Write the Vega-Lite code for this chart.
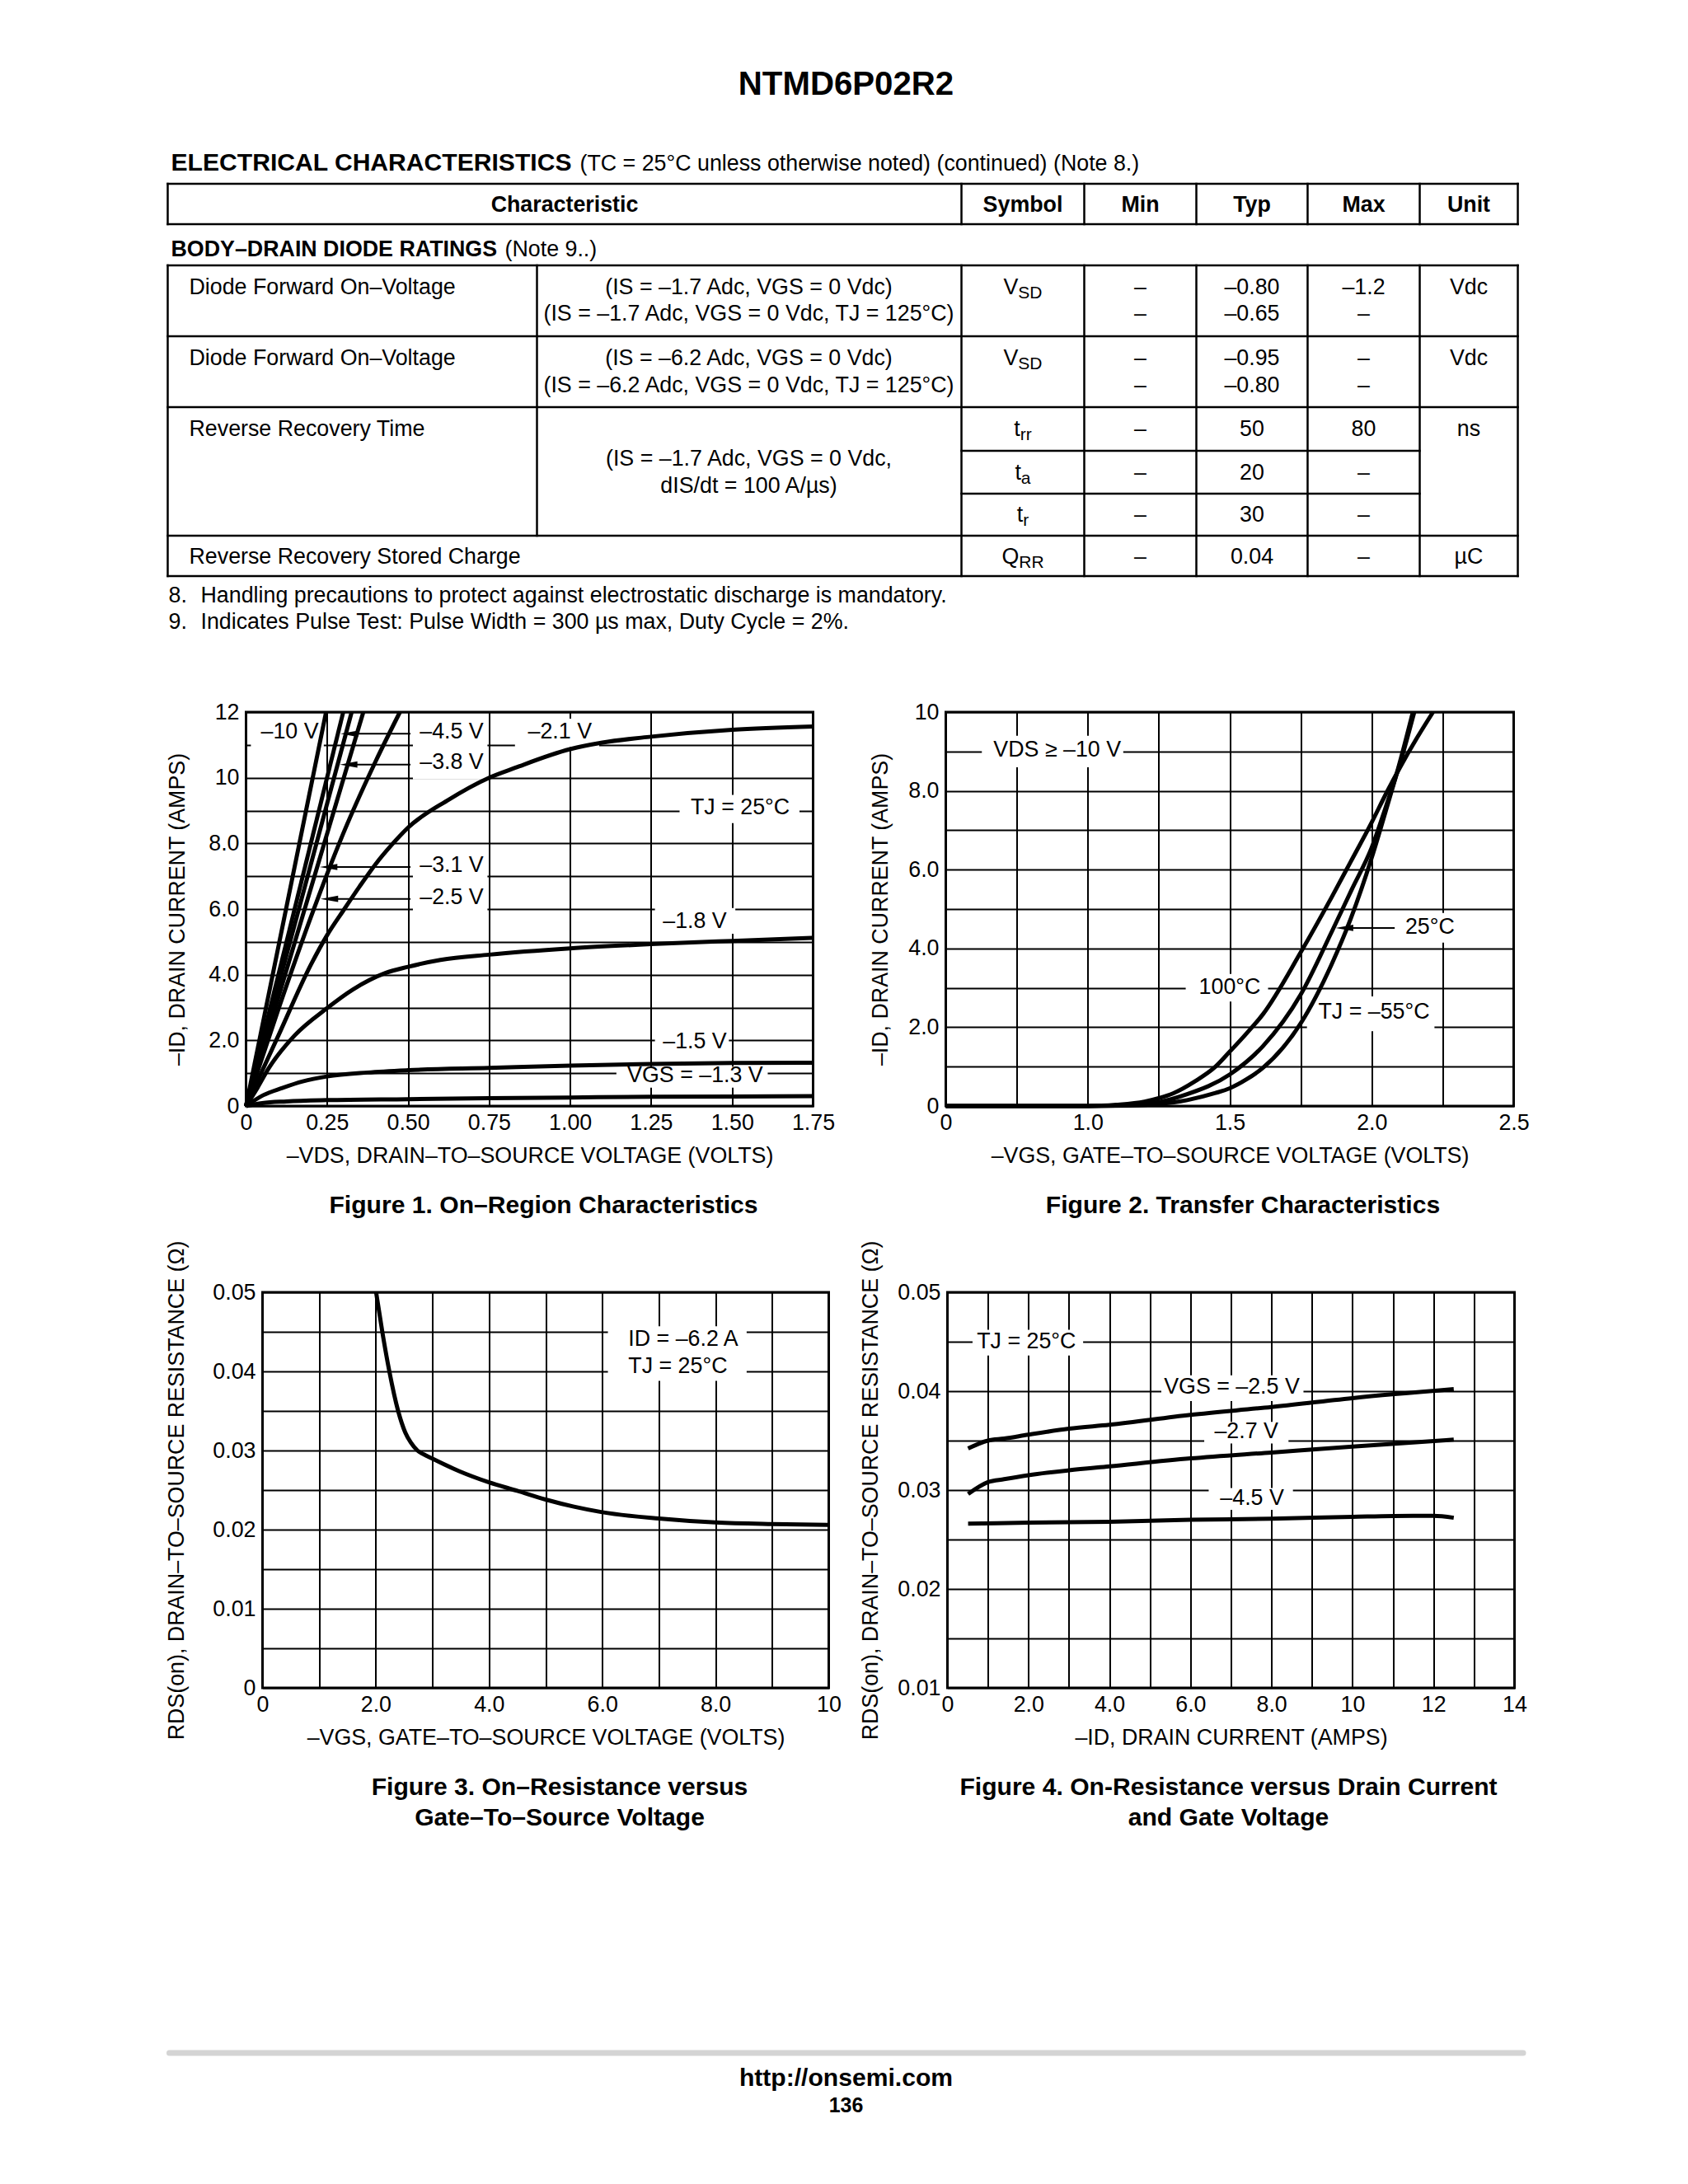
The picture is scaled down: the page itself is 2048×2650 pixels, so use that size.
{
"$schema": "https://vega.github.io/schema/vega-lite/v6.json",
"background": "white",
"padding": {"left": 199.5, "top": 40, "right": 10, "bottom": 10},
"config": {
  "font": "Liberation Sans",
  "view": {"stroke": "black", "strokeWidth": 3},
  "axis": {"labelFont": "Liberation Sans", "labelFontSize": 26.8, "labelColor": "black", "titleFont": "Liberation Sans", "titleFontSize": 26.8, "titleFontWeight": "normal", "titleColor": "black", "grid": true, "gridColor": "black", "gridWidth": 2, "gridOpacity": 1, "domain": false, "ticks": false, "tickSize": 0, "labelFlush": false, "labelOverlap": false, "labelBound": false, "titleLimit": 1000},
  "axisX": {"labelPadding": 7, "titlePadding": 13.8},
  "axisY": {"labelPadding": 8.5},
  "text": {"font": "Liberation Sans", "color": "black"}
},
"spacing": 23,
"bounds": "full",
"vconcat": [
{
  "width": 1640, "height": 786,
  "view": {"stroke": null},
  "encoding": {
    "x": {"field": "x", "type": "quantitative", "scale": {"domain": [88.453, 578.53], "nice": false, "zero": false}, "axis": null},
    "y": {"field": "y", "type": "quantitative", "scale": {"domain": [11.953, 246.83], "nice": false, "zero": false, "reverse": true}, "axis": null}
  },
  "layer": [
    {"data": {"values": [
      {"x":60.06,"x2":549.55,"y":66.64,"y2":66.64},
      {"x":60.06,"x2":549.55,"y":81.28,"y2":81.28},
      {"x":60.06,"x2":549.55,"y":96.22,"y2":96.22},
      {"x":60.06,"x2":549.55,"y":121.92,"y2":121.92},
      {"x":60.06,"x2":549.55,"y":147.62,"y2":147.62},
      {"x":347.84,"x2":513.99,"y":163.46,"y2":163.46},
      {"x":347.84,"x2":513.99,"y":179.0,"y2":179.0},
      {"x":60.06,"x2":549.55,"y":194.24,"y2":194.24},
      {"x":60.06,"x2":549.55,"y":208.88,"y2":208.88},
      {"x":60.06,"x2":60.06,"y":66.64,"y2":81.28},
      {"x":347.84,"x2":347.84,"y":66.64,"y2":81.28},
      {"x":392.36,"x2":392.36,"y":66.64,"y2":81.28},
      {"x":433.0,"x2":433.0,"y":66.64,"y2":81.28},
      {"x":473.34,"x2":473.34,"y":66.64,"y2":81.28},
      {"x":513.99,"x2":513.99,"y":66.64,"y2":81.28},
      {"x":549.55,"x2":549.55,"y":66.64,"y2":81.28},
      {"x":60.06,"x2":60.06,"y":96.22,"y2":208.88},
      {"x":193.94,"x2":193.94,"y":96.22,"y2":194.24},
      {"x":347.84,"x2":347.84,"y":96.22,"y2":208.88},
      {"x":392.36,"x2":392.36,"y":96.22,"y2":208.88},
      {"x":433.0,"x2":433.0,"y":96.22,"y2":208.88},
      {"x":473.34,"x2":473.34,"y":96.22,"y2":208.88},
      {"x":513.99,"x2":513.99,"y":96.22,"y2":208.88},
      {"x":549.55,"x2":549.55,"y":96.22,"y2":208.88}
    ]},
    "mark": {"type": "rule", "color": "black", "strokeWidth": 2.5, "strokeCap": "square"},
    "encoding": {"x2": {"field": "x2"}, "y2": {"field": "y2"}}},
    {"data": {"values": [{"x":306.0,"y":34.49,"t":"NTMD6P02R2"}]},
     "mark": {"type": "text", "align": "center", "baseline": "alphabetic", "fontSize": 40.2, "fontWeight": "bold"},
     "encoding": {"text": {"field": "t"}}},
    {"data": {"values": [{"x":61.26,"y":61.80,"t":"ELECTRICAL CHARACTERISTICS"}]},
     "mark": {"type": "text", "align": "left", "baseline": "alphabetic", "fontSize": 30.1, "fontWeight": "bold"},
     "encoding": {"text": {"field": "t"}}},
    {"data": {"values": [{"x":61.26,"y":92.82,"t":"BODY–DRAIN DIODE RATINGS"}]},
     "mark": {"type": "text", "align": "left", "baseline": "alphabetic", "fontSize": 26.8, "fontWeight": "bold"},
     "encoding": {"text": {"field": "t"}}},
    {"data": {"values": [
      {"x":203.95,"y":76.68,"t":"Characteristic"},
      {"x":370.10,"y":76.68,"t":"Symbol"},
      {"x":412.68,"y":76.68,"t":"Min"},
      {"x":453.17,"y":76.68,"t":"Typ"},
      {"x":493.66,"y":76.68,"t":"Max"},
      {"x":531.76,"y":76.68,"t":"Unit"}
    ]},
     "mark": {"type": "text", "align": "center", "baseline": "alphabetic", "fontSize": 26.8, "fontWeight": "bold"},
     "encoding": {"text": {"field": "t"}}},
    {"data": {"values": [
      {"x":209.48,"y":61.80,"t":"(TC = 25°C unless otherwise noted) (continued) (Note 8.)"},
      {"x":182.29,"y":92.82,"t":"(Note 9..)"},
      {"x":67.83,"y":106.56,"t":"Diode Forward On–Voltage"},
      {"x":67.83,"y":132.26,"t":"Diode Forward On–Voltage"},
      {"x":67.83,"y":157.96,"t":"Reverse Recovery Time"},
      {"x":67.83,"y":204.28,"t":"Reverse Recovery Stored Charge"},
      {"x":60.36,"y":218.33,"t":"8."},
      {"x":72.02,"y":218.33,"t":"Handling precautions to protect against electrostatic discharge is mandatory."},
      {"x":60.36,"y":227.89,"t":"9."},
      {"x":72.02,"y":227.89,"t":"Indicates Pulse Test: Pulse Width = 300 µs max, Duty Cycle = 2%."}
    ]},
     "mark": {"type": "text", "align": "left", "baseline": "alphabetic", "fontSize": 26.8},
     "encoding": {"text": {"field": "t"}}},
    {"data": {"values": [
      {"x":270.74,"y":106.56,"t":"(IS = –1.7 Adc, VGS = 0 Vdc)"},
      {"x":270.74,"y":116.13,"t":"(IS = –1.7 Adc, VGS = 0 Vdc, TJ = 125°C)"},
      {"x":270.74,"y":132.26,"t":"(IS = –6.2 Adc, VGS = 0 Vdc)"},
      {"x":270.74,"y":142.12,"t":"(IS = –6.2 Adc, VGS = 0 Vdc, TJ = 125°C)"},
      {"x":270.74,"y":168.72,"t":"(IS = –1.7 Adc, VGS = 0 Vdc,"},
      {"x":270.74,"y":178.58,"t":"dIS/dt = 100 A/µs)"},
      {"x":412.68,"y":106.56,"t":"–"},
      {"x":412.68,"y":116.13,"t":"–"},
      {"x":412.68,"y":132.26,"t":"–"},
      {"x":412.68,"y":142.12,"t":"–"},
      {"x":412.68,"y":157.96,"t":"–"},
      {"x":412.68,"y":173.80,"t":"–"},
      {"x":412.68,"y":189.04,"t":"–"},
      {"x":412.68,"y":204.28,"t":"–"},
      {"x":453.17,"y":106.56,"t":"–0.80"},
      {"x":453.17,"y":116.13,"t":"–0.65"},
      {"x":453.17,"y":132.26,"t":"–0.95"},
      {"x":453.17,"y":142.12,"t":"–0.80"},
      {"x":453.17,"y":157.96,"t":"50"},
      {"x":453.17,"y":173.80,"t":"20"},
      {"x":453.17,"y":189.04,"t":"30"},
      {"x":453.17,"y":204.28,"t":"0.04"},
      {"x":493.66,"y":106.56,"t":"–1.2"},
      {"x":493.66,"y":116.13,"t":"–"},
      {"x":493.66,"y":132.26,"t":"–"},
      {"x":493.66,"y":142.12,"t":"–"},
      {"x":493.66,"y":157.96,"t":"80"},
      {"x":493.66,"y":173.80,"t":"–"},
      {"x":493.66,"y":189.04,"t":"–"},
      {"x":493.66,"y":204.28,"t":"–"},
      {"x":531.76,"y":106.56,"t":"Vdc"},
      {"x":531.76,"y":132.26,"t":"Vdc"},
      {"x":531.76,"y":157.96,"t":"ns"},
      {"x":531.76,"y":204.28,"t":"µC"}
    ]},
     "mark": {"type": "text", "align": "center", "baseline": "alphabetic", "fontSize": 26.8},
     "encoding": {"text": {"field": "t"}}},
    {"data": {"values": [
      {"x":368.41,"y":106.56,"t":"V"},
      {"x":368.41,"y":132.26,"t":"V"},
      {"x":369.13,"y":157.96,"t":"t"},
      {"x":369.46,"y":173.80,"t":"t"},
      {"x":370.18,"y":189.04,"t":"t"},
      {"x":368.68,"y":204.28,"t":"Q"}
    ]},
     "mark": {"type": "text", "align": "right", "baseline": "alphabetic", "fontSize": 26.8},
     "encoding": {"text": {"field": "t"}}},
    {"data": {"values": [
      {"x":368.41,"y":108.06,"t":"SD"},
      {"x":368.41,"y":133.76,"t":"SD"},
      {"x":369.13,"y":159.46,"t":"rr"},
      {"x":369.46,"y":175.30,"t":"a"},
      {"x":370.18,"y":190.54,"t":"r"},
      {"x":368.68,"y":205.78,"t":"RR"}
    ]},
     "mark": {"type": "text", "align": "left", "baseline": "alphabetic", "fontSize": 21},
     "encoding": {"text": {"field": "t"}}}
  ]
},
{
  "hconcat": [
  {
    "width": 688, "height": 478,
    "title": {"text": "Figure 1. On–Region Characteristics", "orient": "bottom", "frame": "group", "anchor": "middle", "baseline": "top", "offset": 31.6, "dx": 17, "fontSize": 30.1, "fontWeight": "bold", "color": "black"},
    "encoding": {
      "x": {"field": "x", "type": "quantitative", "scale": {"domain": [0, 1.75], "nice": false, "zero": false},
            "axis": {"title": "–VDS, DRAIN–TO–SOURCE VOLTAGE (VOLTS)", "values": [0,0.25,0.5,0.75,1,1.25,1.5,1.75], "labelExpr": "datum.value == 0 ? '0' : format(datum.value, '.2f')"}},
      "y": {"field": "y", "type": "quantitative", "scale": {"domain": [0, 12], "nice": false, "zero": false},
            "axis": {"title": "–ID, DRAIN CURRENT (AMPS)", "titlePadding": 23.7, "values": [0,1,2,3,4,5,6,7,8,9,10,11,12], "labelExpr": "datum.value % 2 != 0 ? '' : datum.value == 0 ? '0' : datum.value >= 10 ? format(datum.value, 'd') : format(datum.value, '.1f')"}}
    },
    "layer": [
      {"data": {"values": [
        {"x":0.015,"x2":0.24,"y":10.9,"y2":11.85},
        {"x":0.515,"x2":0.745,"y":10.93,"y2":11.8},
        {"x":0.515,"x2":0.745,"y":9.95,"y2":10.87},
        {"x":0.515,"x2":0.745,"y":6.83,"y2":7.72},
        {"x":0.515,"x2":0.745,"y":5.85,"y2":6.77},
        {"x":0.83,"x2":1.09,"y":10.93,"y2":11.8},
        {"x":1.338,"x2":1.708,"y":8.62,"y2":9.48},
        {"x":1.262,"x2":1.51,"y":5.25,"y2":6.03},
        {"x":1.262,"x2":1.49,"y":1.55,"y2":2.3},
        {"x":1.143,"x2":1.61,"y":0.56,"y2":1.2}
      ]},
       "mark": {"type": "rect", "color": "white", "opacity": 1},
       "encoding": {"x2": {"field": "x2"}, "y2": {"field": "y2"}}},
      {"data": {"values": [
        {"x":0.3185,"x2":0.5076,"y":11.34},
        {"x":0.3165,"x2":0.5076,"y":10.4},
        {"x":0.2546,"x2":0.5076,"y":7.28},
        {"x":0.257,"x2":0.5076,"y":6.31}
      ]},
       "mark": {"type": "rule", "color": "black", "strokeWidth": 2},
       "encoding": {"x2": {"field": "x2"}}},
      {"data": {"values": [
        {"x":0.3185,"y":11.34},
        {"x":0.3165,"y":10.4},
        {"x":0.2546,"y":7.28},
        {"x":0.257,"y":6.31}
      ]},
       "mark": {"type": "point", "shape": "M-1,0L1,-0.36L1,0.36Z", "size": 460, "filled": true, "color": "black", "opacity": 1, "strokeWidth": 0}},
      {"data": {"values": [
        {"s":"-10","x":0,"y":0},{"s":"-10","x":0.247,"y":12},
        {"s":"-4.5","x":0,"y":0},{"s":"-4.5","x":0.300,"y":12},
        {"s":"-3.8","x":0,"y":0},{"s":"-3.8","x":0.326,"y":12},
        {"s":"-3.1","x":0,"y":0},{"s":"-3.1","x":0.362,"y":12},
        {"s":"-2.5","x":0,"y":0},{"s":"-2.5","x":0.1,"y":2.95},{"s":"-2.5","x":0.2,"y":5.75},{"s":"-2.5","x":0.3,"y":8.3},{"s":"-2.5","x":0.4,"y":10.5},{"s":"-2.5","x":0.475,"y":12},
        {"s":"-2.1","x":0,"y":0},{"s":"-2.1","x":0.1,"y":2.15},{"s":"-2.1","x":0.2,"y":4.3},{"s":"-2.1","x":0.25,"y":5.2},{"s":"-2.1","x":0.3,"y":5.95},{"s":"-2.1","x":0.35,"y":6.68},{"s":"-2.1","x":0.4,"y":7.37},{"s":"-2.1","x":0.45,"y":7.96},{"s":"-2.1","x":0.5,"y":8.48},{"s":"-2.1","x":0.62,"y":9.3},{"s":"-2.1","x":0.75,"y":10.0},{"s":"-2.1","x":0.83,"y":10.3},{"s":"-2.1","x":1.0,"y":10.87},{"s":"-2.1","x":1.1,"y":11.07},{"s":"-2.1","x":1.25,"y":11.25},{"s":"-2.1","x":1.5,"y":11.46},{"s":"-2.1","x":1.75,"y":11.56},
        {"s":"-1.8","x":0,"y":0},{"s":"-1.8","x":0.035,"y":0.55},{"s":"-1.8","x":0.07,"y":1.15},{"s":"-1.8","x":0.15,"y":2.15},{"s":"-1.8","x":0.25,"y":2.98},{"s":"-1.8","x":0.33,"y":3.55},{"s":"-1.8","x":0.43,"y":4.05},{"s":"-1.8","x":0.5,"y":4.24},{"s":"-1.8","x":0.6,"y":4.45},{"s":"-1.8","x":0.75,"y":4.61},{"s":"-1.8","x":1.0,"y":4.8},{"s":"-1.8","x":1.25,"y":4.93},{"s":"-1.8","x":1.5,"y":5.03},{"s":"-1.8","x":1.75,"y":5.12},
        {"s":"-1.5","x":0,"y":0},{"s":"-1.5","x":0.053,"y":0.33},{"s":"-1.5","x":0.112,"y":0.55},{"s":"-1.5","x":0.175,"y":0.75},{"s":"-1.5","x":0.25,"y":0.9},{"s":"-1.5","x":0.375,"y":1.02},{"s":"-1.5","x":0.5,"y":1.09},{"s":"-1.5","x":0.75,"y":1.16},{"s":"-1.5","x":1.0,"y":1.23},{"s":"-1.5","x":1.25,"y":1.28},{"s":"-1.5","x":1.5,"y":1.31},{"s":"-1.5","x":1.75,"y":1.32},
        {"s":"-1.3","x":0,"y":0},{"s":"-1.3","x":0.05,"y":0.09},{"s":"-1.3","x":0.125,"y":0.14},{"s":"-1.3","x":0.25,"y":0.18},{"s":"-1.3","x":0.5,"y":0.21},{"s":"-1.3","x":0.75,"y":0.24},{"s":"-1.3","x":1.0,"y":0.26},{"s":"-1.3","x":1.25,"y":0.28},{"s":"-1.3","x":1.5,"y":0.29},{"s":"-1.3","x":1.75,"y":0.3}
      ]},
       "mark": {"type": "line", "color": "black", "strokeWidth": 5, "interpolate": "monotone"},
       "encoding": {"detail": {"field": "s"}}},
      {"data": {"values": [
        {"x":0.536,"y":11.39,"t":"–4.5 V"},
        {"x":0.536,"y":10.46,"t":"–3.8 V"},
        {"x":0.536,"y":7.32,"t":"–3.1 V"},
        {"x":0.536,"y":6.34,"t":"–2.5 V"},
        {"x":0.87,"y":11.39,"t":"–2.1 V"}
      ]},
       "mark": {"type": "text", "align": "left", "baseline": "middle", "fontSize": 26.8},
       "encoding": {"text": {"field": "t"}}},
      {"data": {"values": [
        {"x":0.135,"y":11.39,"t":"–10 V"},
        {"x":1.525,"y":9.08,"t":"TJ = 25°C"},
        {"x":1.385,"y":5.63,"t":"–1.8 V"},
        {"x":1.385,"y":1.95,"t":"–1.5 V"},
        {"x":1.386,"y":0.93,"t":"VGS = –1.3 V"}
      ]},
       "mark": {"type": "text", "align": "center", "baseline": "middle", "fontSize": 26.8},
       "encoding": {"text": {"field": "t"}}}
    ]
  },
  {
    "width": 689, "height": 478,
    "title": {"text": "Figure 2. Transfer Characteristics", "orient": "bottom", "frame": "group", "anchor": "middle", "baseline": "top", "offset": 31.6, "dx": 16, "fontSize": 30.1, "fontWeight": "bold", "color": "black"},
    "encoding": {
      "x": {"field": "x", "type": "quantitative", "scale": {"domain": [0, 1, 2.5], "range": [0, 172.25, 689], "nice": false, "zero": false},
            "axis": {"title": "–VGS, GATE–TO–SOURCE VOLTAGE (VOLTS)", "values": [0,0.5,1,1.25,1.5,1.75,2,2.25,2.5], "labelExpr": "datum.value == 0 ? '0' : (datum.value == 1 || datum.value == 1.5 || datum.value == 2 || datum.value == 2.5) ? format(datum.value, '.1f') : ''"}},
      "y": {"field": "y", "type": "quantitative", "scale": {"domain": [0, 10], "nice": false, "zero": false},
            "axis": {"title": "–ID, DRAIN CURRENT (AMPS)", "titlePadding": 19, "values": [0,1,2,3,4,5,6,7,8,9,10], "labelExpr": "datum.value % 2 != 0 ? '' : datum.value == 0 ? '0' : datum.value >= 10 ? format(datum.value, 'd') : format(datum.value, '.1f')"}}
    },
    "layer": [
      {"data": {"values": [
        {"x":0.254,"x2":1.125,"y":8.6,"y2":9.4},
        {"x":2.1,"x2":2.33,"y":4.15,"y2":4.9},
        {"x":1.345,"x2":1.635,"y":2.65,"y2":3.35},
        {"x":1.772,"x2":2.221,"y":1.9,"y2":2.78}
      ]},
       "mark": {"type": "rect", "color": "white", "opacity": 1},
       "encoding": {"x2": {"field": "x2"}, "y2": {"field": "y2"}}},
      {"data": {"values": [{"x":1.904,"x2":2.081,"y":4.52}]},
       "mark": {"type": "rule", "color": "black", "strokeWidth": 2},
       "encoding": {"x2": {"field": "x2"}}},
      {"data": {"values": [{"x":1.904,"y":4.52}]},
       "mark": {"type": "point", "shape": "M-1,0L1,-0.36L1,0.36Z", "size": 460, "filled": true, "color": "black", "opacity": 1, "strokeWidth": 0}},
      {"data": {"values": [
        {"s":"100","x":0,"y":0},{"s":"100","x":1.0,"y":0},{"s":"100","x":1.1,"y":0.03},{"s":"100","x":1.2,"y":0.11},{"s":"100","x":1.25,"y":0.2},{"s":"100","x":1.3,"y":0.32},{"s":"100","x":1.376,"y":0.62},{"s":"100","x":1.45,"y":1.0},{"s":"100","x":1.5,"y":1.38},{"s":"100","x":1.56,"y":1.85},{"s":"100","x":1.617,"y":2.33},{"s":"100","x":1.75,"y":3.9},{"s":"100","x":1.859,"y":5.3},{"s":"100","x":1.926,"y":6.2},{"s":"100","x":2.0,"y":7.2},{"s":"100","x":2.052,"y":7.95},{"s":"100","x":2.1,"y":8.6},{"s":"100","x":2.16,"y":9.35},{"s":"100","x":2.216,"y":10},
        {"s":"25","x":0,"y":0},{"s":"25","x":1.0,"y":0},{"s":"25","x":1.1,"y":0.01},{"s":"25","x":1.2,"y":0.05},{"s":"25","x":1.25,"y":0.1},{"s":"25","x":1.35,"y":0.3},{"s":"25","x":1.5,"y":0.8},{"s":"25","x":1.617,"y":1.52},{"s":"25","x":1.75,"y":2.83},{"s":"25","x":1.859,"y":4.42},{"s":"25","x":1.93,"y":5.5},{"s":"25","x":2.0,"y":6.56},{"s":"25","x":2.05,"y":7.6},{"s":"25","x":2.1,"y":8.7},{"s":"25","x":2.15,"y":10},
        {"s":"-55","x":0,"y":0},{"s":"-55","x":1.0,"y":0},{"s":"-55","x":1.15,"y":0.01},{"s":"-55","x":1.25,"y":0.05},{"s":"-55","x":1.35,"y":0.15},{"s":"-55","x":1.45,"y":0.33},{"s":"-55","x":1.5,"y":0.45},{"s":"-55","x":1.56,"y":0.68},{"s":"-55","x":1.617,"y":0.97},{"s":"-55","x":1.75,"y":2.1},{"s":"-55","x":1.859,"y":3.6},{"s":"-55","x":1.926,"y":4.75},{"s":"-55","x":2.0,"y":6.3},{"s":"-55","x":2.05,"y":7.5},{"s":"-55","x":2.1,"y":8.75},{"s":"-55","x":2.145,"y":10}
      ]},
       "mark": {"type": "line", "color": "black", "strokeWidth": 5, "interpolate": "monotone"},
       "encoding": {"detail": {"field": "s"}}},
      {"data": {"values": [{"x":2.118,"y":4.55,"t":"25°C"}]},
       "mark": {"type": "text", "align": "left", "baseline": "middle", "fontSize": 26.8},
       "encoding": {"text": {"field": "t"}}},
      {"data": {"values": [
        {"x":0.785,"y":9.03,"t":"VDS ≥ –10 V"},
        {"x":1.5,"y":3.02,"t":"100°C"},
        {"x":2.008,"y":2.38,"t":"TJ = –55°C"}
      ]},
       "mark": {"type": "text", "align": "center", "baseline": "middle", "fontSize": 26.8},
       "encoding": {"text": {"field": "t"}}}
    ]
  }
  ],
  "spacing": 161,
  "bounds": "flush"
},
{
  "hconcat": [
  {
    "width": 10, "height": 1,
    "view": {"stroke": null},
    "data": {"values": [{"t": ""}]},
    "mark": {"type": "text"},
    "encoding": {"text": {"field": "t"}}
  },
  {
  "hconcat": [
  {
    "width": 687, "height": 480,
    "title": {"text": ["Figure 3. On–Resistance versus", "Gate–To–Source Voltage"], "orient": "bottom", "frame": "group", "anchor": "middle", "baseline": "top", "offset": 31.6, "dx": 17, "lineHeight": 37, "fontSize": 30.1, "fontWeight": "bold", "color": "black"},
    "encoding": {
      "x": {"field": "x", "type": "quantitative", "scale": {"domain": [0, 10], "nice": false, "zero": false},
            "axis": {"title": "–VGS, GATE–TO–SOURCE VOLTAGE (VOLTS)", "values": [0,1,2,3,4,5,6,7,8,9,10], "labelExpr": "datum.value % 2 != 0 ? '' : datum.value == 0 ? '0' : datum.value >= 10 ? format(datum.value, 'd') : format(datum.value, '.1f')"}},
      "y": {"field": "y", "type": "quantitative", "scale": {"domain": [0, 0.05], "nice": false, "zero": false},
            "axis": {"title": "RDS(on), DRAIN–TO–SOURCE RESISTANCE (Ω)", "titlePadding": 28.85, "values": [0,0.005,0.01,0.015,0.02,0.025,0.03,0.035,0.04,0.045,0.05], "labelExpr": "round(datum.value*1000) % 10 != 0 ? '' : datum.value == 0 ? '0' : format(datum.value, '.2f')"}}
    },
    "layer": [
      {"data": {"values": [{"x":6.1,"x2":8.55,"y":0.0388,"y2":0.0457}]},
       "mark": {"type": "rect", "color": "white", "opacity": 1},
       "encoding": {"x2": {"field": "x2"}, "y2": {"field": "y2"}}},
      {"data": {"values": [
        {"x":2.006,"y":0.05},{"x":2.12,"y":0.0448},{"x":2.24,"y":0.040},{"x":2.395,"y":0.035},{"x":2.52,"y":0.0323},{"x":2.62,"y":0.0310},{"x":2.736,"y":0.0300},{"x":2.85,"y":0.0295},{"x":2.99,"y":0.029},{"x":3.47,"y":0.0274},{"x":3.99,"y":0.026},{"x":4.5,"y":0.0249},{"x":5.0,"y":0.0238},{"x":5.5,"y":0.0229},{"x":6.0,"y":0.0222},{"x":7.0,"y":0.0214},{"x":8.0,"y":0.0209},{"x":9.0,"y":0.0207},{"x":10,"y":0.0206}
      ]},
       "mark": {"type": "line", "color": "black", "strokeWidth": 5, "interpolate": "monotone"}},
      {"data": {"values": [
        {"x":6.46,"y":0.0441,"t":"ID = –6.2 A"},
        {"x":6.46,"y":0.0406,"t":"TJ = 25°C"}
      ]},
       "mark": {"type": "text", "align": "left", "baseline": "middle", "fontSize": 26.8},
       "encoding": {"text": {"field": "t"}}}
    ]
  },
  {
    "width": 688, "height": 480,
    "title": {"text": ["Figure 4. On-Resistance versus Drain Current", "and Gate Voltage"], "orient": "bottom", "frame": "group", "anchor": "middle", "baseline": "top", "offset": 31.6, "dx": -3, "lineHeight": 37, "fontSize": 30.1, "fontWeight": "bold", "color": "black"},
    "encoding": {
      "x": {"field": "x", "type": "quantitative", "scale": {"domain": [0, 14], "nice": false, "zero": false},
            "axis": {"title": "–ID, DRAIN CURRENT (AMPS)", "values": [0,1,2,3,4,5,6,7,8,9,10,11,12,13,14], "labelExpr": "datum.value % 2 != 0 ? '' : datum.value == 0 ? '0' : datum.value >= 10 ? format(datum.value, 'd') : format(datum.value, '.1f')"}},
      "y": {"field": "y", "type": "quantitative", "scale": {"domain": [0.01, 0.05], "nice": false, "zero": false},
            "axis": {"title": "RDS(on), DRAIN–TO–SOURCE RESISTANCE (Ω)", "titlePadding": 18, "values": [0.01,0.015,0.02,0.025,0.03,0.035,0.04,0.045,0.05], "labelExpr": "round(datum.value*1000) % 10 != 0 ? '' : format(datum.value, '.2f')"}}
    },
    "layer": [
      {"data": {"values": [
        {"x":0.62,"x2":3.35,"y":0.0436,"y2":0.0462},
        {"x":5.28,"x2":8.79,"y":0.0390,"y2":0.0416},
        {"x":6.34,"x2":8.42,"y":0.0347,"y2":0.0369},
        {"x":6.45,"x2":8.53,"y":0.0280,"y2":0.0302}
      ]},
       "mark": {"type": "rect", "color": "white", "opacity": 1},
       "encoding": {"x2": {"field": "x2"}, "y2": {"field": "y2"}}},
      {"data": {"values": [
        {"s":"-2.5","x":0.51,"y":0.0342},{"s":"-2.5","x":1.0,"y":0.0350},{"s":"-2.5","x":1.4,"y":0.0352},{"s":"-2.5","x":2,"y":0.0356},{"s":"-2.5","x":3,"y":0.0362},{"s":"-2.5","x":4,"y":0.0366},{"s":"-2.5","x":6,"y":0.0376},{"s":"-2.5","x":8,"y":0.0384},{"s":"-2.5","x":10,"y":0.0393},{"s":"-2.5","x":12.5,"y":0.0402},
        {"s":"-2.7","x":0.51,"y":0.0296},{"s":"-2.7","x":1.0,"y":0.0308},{"s":"-2.7","x":1.4,"y":0.0311},{"s":"-2.7","x":2,"y":0.0315},{"s":"-2.7","x":3,"y":0.0320},{"s":"-2.7","x":4,"y":0.0324},{"s":"-2.7","x":6,"y":0.0332},{"s":"-2.7","x":8,"y":0.0338},{"s":"-2.7","x":10,"y":0.0344},{"s":"-2.7","x":12.5,"y":0.0351},
        {"s":"-4.5","x":0.51,"y":0.0266},{"s":"-4.5","x":2,"y":0.0267},{"s":"-4.5","x":4,"y":0.0268},{"s":"-4.5","x":6,"y":0.0270},{"s":"-4.5","x":8,"y":0.0271},{"s":"-4.5","x":10,"y":0.0273},{"s":"-4.5","x":11.5,"y":0.0274},{"s":"-4.5","x":12,"y":0.0274},{"s":"-4.5","x":12.5,"y":0.0272}
      ]},
       "mark": {"type": "line", "color": "black", "strokeWidth": 5, "interpolate": "monotone"},
       "encoding": {"detail": {"field": "s"}}},
      {"data": {"values": [
        {"x":1.95,"y":0.0450,"t":"TJ = 25°C"},
        {"x":7.02,"y":0.0404,"t":"VGS = –2.5 V"},
        {"x":7.38,"y":0.0359,"t":"–2.7 V"},
        {"x":7.52,"y":0.0292,"t":"–4.5 V"}
      ]},
       "mark": {"type": "text", "align": "center", "baseline": "middle", "fontSize": 26.8},
       "encoding": {"text": {"field": "t"}}}
    ]
  }
  ],
  "spacing": 144,
  "bounds": "flush"
  }
  ],
  "spacing": 10,
  "bounds": "flush"
},
{
  "width": 1640, "height": 340,
  "view": {"stroke": null},
  "encoding": {
    "x": {"field": "x", "type": "quantitative", "scale": {"domain": [88.453, 578.53], "nice": false, "zero": false}, "axis": null},
    "y": {"field": "y", "type": "quantitative", "scale": {"domain": [670.60, 772.20], "nice": false, "zero": false, "reverse": true}, "axis": null}
  },
  "layer": [
    {"data": {"values": [{"x":60.66,"x2":551.49,"y":743.79}]},
     "mark": {"type": "rule", "color": "#d4d4d4", "strokeWidth": 7, "strokeCap": "round"},
     "encoding": {"x2": {"field": "x2"}}},
    {"data": {"values": [{"x":306.0,"y":755.68,"t":"http://onsemi.com"}]},
     "mark": {"type": "text", "align": "center", "baseline": "alphabetic", "fontSize": 30.1, "fontWeight": "bold"},
     "encoding": {"text": {"field": "t"}}},
    {"data": {"values": [{"x":306.0,"y":765.18,"t":"136"}]},
     "mark": {"type": "text", "align": "center", "baseline": "alphabetic", "fontSize": 25, "fontWeight": "bold"},
     "encoding": {"text": {"field": "t"}}}
  ]
}
]
}
